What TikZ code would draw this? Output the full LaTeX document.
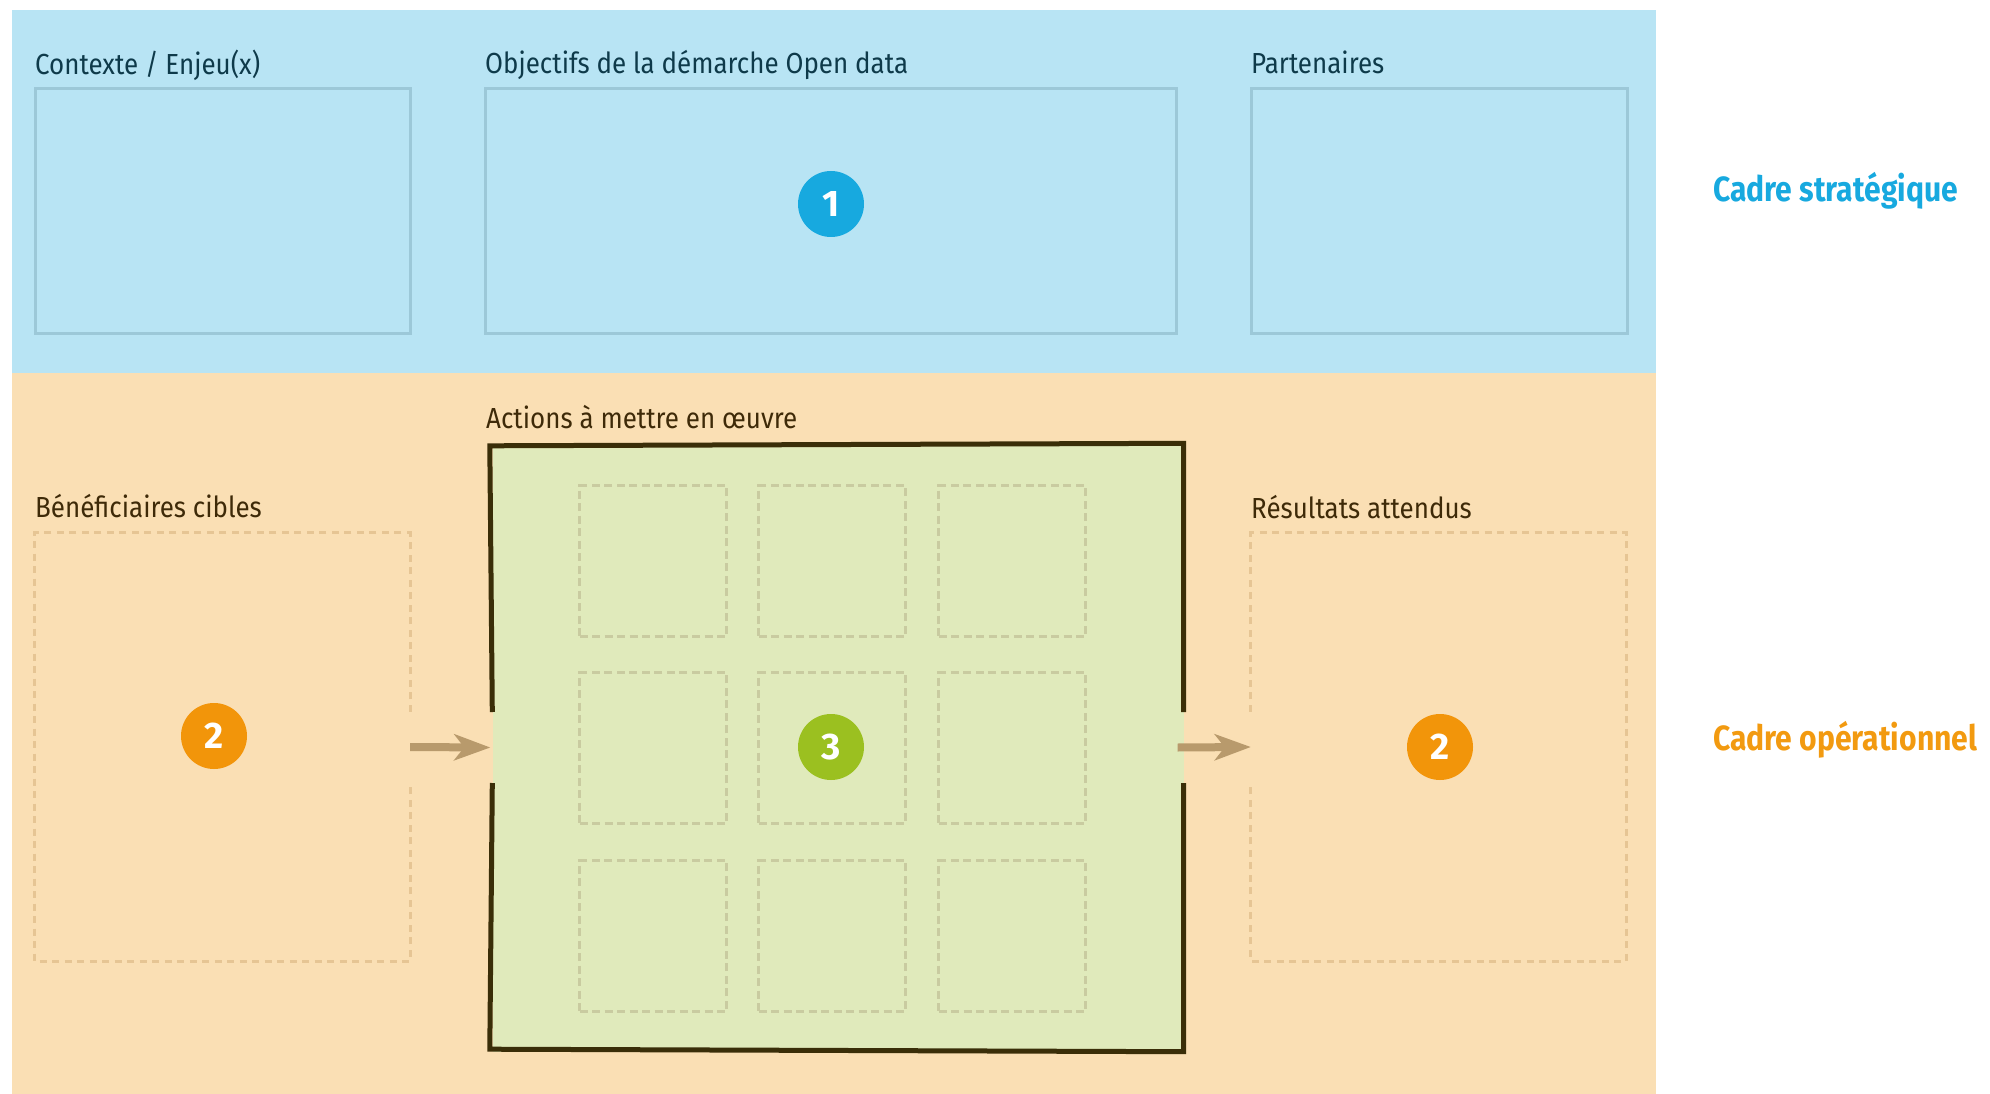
\documentclass[tikz,border=0pt]{standalone}
\usepackage{fontspec}
\setmainfont{Fira Sans}[FakeStretch=0.895]
\newfontfamily\titlefont{Fira Sans Bold}[FakeStretch=0.86]
\newfontfamily\badgefont{Fira Sans Bold}
\usetikzlibrary{arrows.meta}
\definecolor{bandblue}{HTML}{B8E4F4}
\definecolor{boxblue}{HTML}{9CC8D8}
\definecolor{txtblue}{HTML}{0E3A4A}
\definecolor{circblue}{HTML}{17A9DF}
\definecolor{bandor}{HTML}{FADFB4}
\definecolor{dashor}{HTML}{E6C594}
\definecolor{txtbrown}{HTML}{3E2A08}
\definecolor{greenfill}{HTML}{E0EABB}
\definecolor{greenedge}{HTML}{3A2E08}
\definecolor{dashgreen}{HTML}{C9CBA0}
\definecolor{circgreen}{HTML}{9BC020}
\definecolor{circor}{HTML}{F2950A}
\definecolor{arrcol}{HTML}{B89A6C}
\definecolor{titleor}{HTML}{F29A10}
\tikzset{
  stratbox/.style={draw=boxblue, line width=3pt, minimum width=#1, minimum height=244pt, inner sep=0pt},
  lbl/.style={anchor=base west, inner sep=0pt, font=\fontsize{29}{34}\selectfont},
  lblblue/.style={lbl, text=txtblue},
  lblbrown/.style={lbl, text=txtbrown},
  sidebox/.style={minimum width=375pt, minimum height=428pt, inner sep=0pt},
  sidedash/.style={draw=dashor, line width=3pt, dash pattern=on 7pt off 5.5pt},
  cell/.style={draw=dashgreen, line width=3pt, dash pattern=on 8pt off 4.5pt, minimum width=147pt, minimum height=151pt, inner sep=0pt, anchor=north west},
  badge/.style={circle, minimum size=66pt, inner sep=0pt, text=white, font=\badgefont\fontsize{37}{42}\selectfont},
  bigarrow/.style={draw=arrcol, line width=8pt, -{Stealth[length=36pt, width=26pt, inset=10pt]}},
  title/.style={anchor=base west, inner sep=0pt, font=\titlefont\fontsize{35}{40}\selectfont},
}
\begin{document}
\begin{tikzpicture}[x=1pt, y=-1pt]
\useasboundingbox (0,0) rectangle (1990,1094);
% bands
\fill[bandblue] (12,10) rectangle (1656,373);
\fill[bandor] (12,373) rectangle (1656,1094);
% strategic boxes
\node[stratbox=375pt] (ctx) at (222.5,211) {};
\node[stratbox=691pt] (obj) at (830.5,211) {};
\node[stratbox=376pt] (part) at (1439,211) {};
\node[lblblue] (ctxl) at (35,75) {Contexte / Enjeu(x)};
\node[lblblue] (objl) at (485,74) {Objectifs de la démarche Open data};
\node[lblblue] (partl) at (1251,74) {Partenaires};
\node[badge, fill=circblue] (b1) at (831,204) {1};
\node[title, text=circblue] (t1) at (1713,202) {Cadre stratégique};
% operational
\node[sidebox] (benef) at (222.5,747) {};
\node[sidebox] (res) at (1438.5,747) {};
\draw[sidedash] ([yshift=35.5pt]benef.east) -- (benef.north east) -- (benef.north west) -- (benef.south west) -- (benef.south east) -- ([yshift=-35.5pt]benef.east);
\draw[sidedash] ([yshift=35.5pt]res.west) -- (res.north west) -- (res.north east) -- (res.south east) -- (res.south west) -- ([yshift=-35.5pt]res.west);
\node[lblbrown] (benefl) at (35,517) {Bénéficiaires cibles};
\node[lblbrown] (resl) at (1251,518) {Résultats attendus};
\node[lblbrown] (actl) at (486,428) {Actions à mettre en œuvre};
% actions box
\node[fill=greenfill, minimum width=691pt, minimum height=608pt, inner sep=0pt] (act) at (838,747.5) {};
\draw[greenedge, line width=5pt] ([yshift=35.5pt]act.west) -- ([xshift=-2.5pt,yshift=-2.5pt]act.north west) -- (act.north east) -- ([yshift=35.5pt]act.east);
\draw[greenedge, line width=5pt] ([yshift=-35.5pt]act.west) -- ([xshift=-2.5pt,yshift=2.5pt]act.south west) -- (act.south east) -- ([yshift=-35.5pt]act.east);
\foreach \c/\x in {1/578,2/757,3/937}{
  \foreach \r/\y in {1/484,2/671,3/859}{
    \node[cell] (cell\r\c) at (\x,\y) {};
  }
}
\node[badge, fill=circgreen] (b3) at (831,747) {3};
\node[badge, fill=circor] (b2a) at (214,736) {2};
\node[badge, fill=circor] (b2b) at (1440,747) {2};
\draw[bigarrow] (benef.east) -- ([xshift=-2pt]act.west);
\draw[bigarrow] ([xshift=-6pt]act.east) -- (res.west);
\node[title, text=titleor] (t2) at (1713,750) {Cadre opérationnel};
\end{tikzpicture}
\end{document}
